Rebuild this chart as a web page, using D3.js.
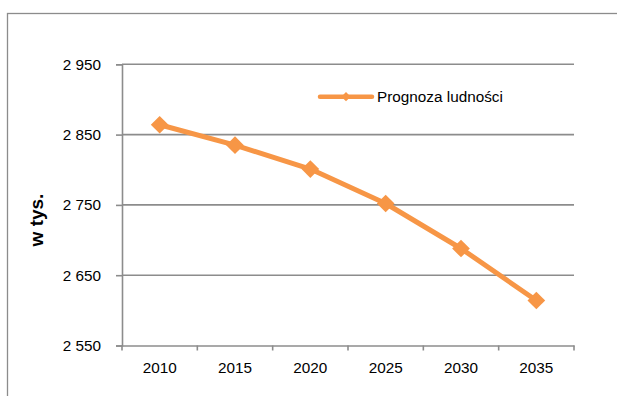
<!DOCTYPE html>
<html><head><meta charset="utf-8">
<script src="https://cdn.jsdelivr.net/npm/d3@7"></script>
<style>
html,body{margin:0;padding:0;background:#fff;overflow:hidden}
text{font-family:"Liberation Sans",Arial,sans-serif;fill:#000}
</style></head>
<body>
<svg id="chart" width="617" height="396"></svg>
<script>
const years = ["2010","2015","2020","2025","2030","2035"];
const values = [2864, 2835, 2801, 2752, 2688, 2614];
const yTicks = [2550, 2650, 2750, 2850, 2950];
const seriesName = "Prognoza ludności";
const yTitle = "w tys.";

(function(){
const svg = d3.select("#chart");
const color = "#F79646";
const grid = "#8c8c8c";
const pL = 122, pR = 574, pT = 64.3, pB = 345.5;
const fs = 15.3;

svg.append("rect").attr("x",7.5).attr("y",13.5).attr("width",800).attr("height",600)
  .attr("fill","none").attr("stroke","#8c8c8c").attr("stroke-width",1.3);

const x = d3.scaleBand().domain(years).range([pL,pR]);
const y = d3.scaleLinear().domain([2550,2950]).range([pB,pT]);
const fmt = v => d3.format(",")(v).replace(",", " ");

svg.append("g").selectAll("line").data(yTicks.slice(1)).join("line")
  .attr("x1",pL).attr("x2",pR).attr("y1",d=>y(d)).attr("y2",d=>y(d))
  .attr("stroke",grid).attr("stroke-width",1.6);

const ya = svg.append("g").attr("transform",`translate(${pL},0)`)
  .call(d3.axisLeft(y).tickValues(yTicks).tickFormat(fmt).tickSize(6).tickPadding(15));
ya.select(".domain").attr("stroke",grid).attr("stroke-width",1.6);
ya.selectAll(".tick line").attr("stroke",grid).attr("stroke-width",1.6);
ya.selectAll(".tick text").attr("font-size",fs).attr("font-family",null);

const xa = svg.append("g").attr("transform",`translate(0,${pB})`)
  .call(d3.axisBottom(x).tickSize(0).tickPadding(16.5));
xa.select(".domain").attr("stroke",grid).attr("stroke-width",1.6);
xa.selectAll(".tick text").attr("font-size",fs).attr("font-family",null);
const edges = years.map(d=>x(d)).concat([pR]);
xa.selectAll(".edge").data(edges).join("line").attr("class","edge")
  .attr("x1",d=>d).attr("x2",d=>d).attr("y1",0).attr("y2",5)
  .attr("stroke",grid).attr("stroke-width",1.6);

svg.append("text").attr("transform","translate(43,220) rotate(-90)")
  .attr("text-anchor","middle").attr("font-weight","bold").attr("font-size",19).text(yTitle);

const cx = d => x(d) + x.bandwidth()/2;
const pts = values.map((v,i)=>[years[i],v]);
svg.append("path").datum(pts)
  .attr("fill","none").attr("stroke",color).attr("stroke-width",5).attr("stroke-linejoin","round")
  .attr("d", d3.line().x(d=>cx(d[0])).y(d=>y(d[1])));
svg.append("g").selectAll("path").data(pts).join("path")
  .attr("transform",d=>`translate(${cx(d[0])},${y(d[1])})`)
  .attr("d", d3.symbol().type(d3.symbolDiamond2).size(200))
  .attr("fill",color);

const lg = svg.append("g").attr("transform","translate(0,96.7)");
lg.append("line").attr("x1",320).attr("x2",372).attr("stroke",color).attr("stroke-width",4.5).attr("stroke-linecap","round");
lg.append("path").attr("transform","translate(346,0)").attr("d",d3.symbol().type(d3.symbolDiamond2).size(55)).attr("fill",color);
lg.append("text").attr("x",377).attr("y",5.3).attr("font-size",fs).text(seriesName);
})();
</script>
</body></html>
